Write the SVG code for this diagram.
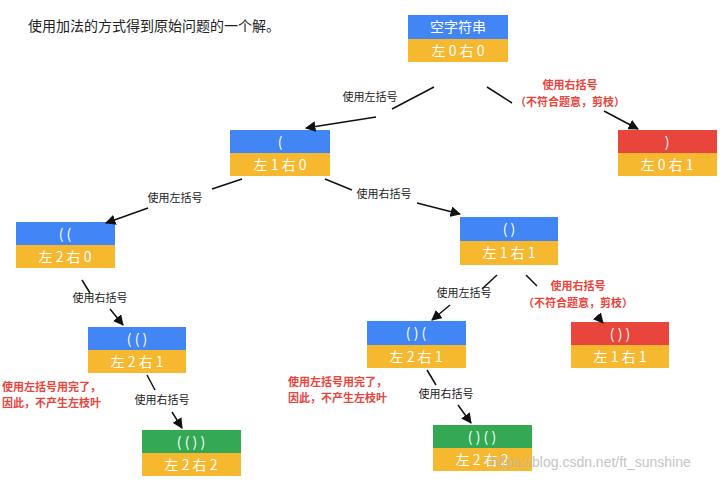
<svg xmlns="http://www.w3.org/2000/svg" width="722" height="481" viewBox="0 0 722 481">
<defs><marker id="ah" viewBox="0 0 10 10" refX="9" refY="5" markerWidth="7" markerHeight="7" orient="auto"><path d="M0,0L10,5L0,10z" fill="#111"/></marker></defs>
<style>
text{font-family:"Noto Sans CJK SC","Liberation Sans",sans-serif}
.b{fill:#4285F4}.y{fill:#F5B82E}.r{fill:#E8453C}.g{fill:#34A853}
.t{fill:#fff;font-size:14px;text-anchor:middle}
.l{fill:#222;font-size:11px;text-anchor:middle}
.rl{fill:#E8453C;font-size:11px;font-weight:bold;text-anchor:middle}
.ra{fill:#E8453C;font-size:11px;font-weight:bold}
line{stroke:#111;stroke-width:1.5}
</style>
<rect width="722" height="481" fill="#fff"/>
<text x="28" y="31" font-size="14" fill="#222">使用加法的方式得到原始问题的一个解。</text>
<g id="n0"><rect class="b" x="408" y="15" width="100" height="24"/><rect class="y" x="408" y="39" width="100" height="23"/><text class="t" x="458" y="32">空字符串</text><text class="t" x="458" y="56">左 0 右 0</text></g>
<g id="n1"><rect class="b" x="230" y="130" width="100" height="23"/><rect class="y" x="230" y="153" width="100" height="23"/><text class="t" x="280" y="147">(</text><text class="t" x="280" y="170">左 1 右 0</text></g>
<g id="n2"><rect class="r" x="618" y="130" width="99" height="23"/><rect class="y" x="618" y="153" width="99" height="23"/><text class="t" x="667" y="147">)</text><text class="t" x="667" y="170">左 0 右 1</text></g>
<g id="n3"><rect class="b" x="16" y="222" width="99" height="23"/><rect class="y" x="16" y="245" width="99" height="23"/><text class="t" x="65" y="239">( (</text><text class="t" x="65" y="262">左 2 右 0</text></g>
<g id="n4"><rect class="b" x="460" y="217" width="98" height="24"/><rect class="y" x="460" y="241" width="98" height="24"/><text class="t" x="509" y="234">( )</text><text class="t" x="509" y="258">左 1 右 1</text></g>
<g id="n5"><rect class="b" x="88" y="327" width="98" height="23"/><rect class="y" x="88" y="350" width="98" height="23"/><text class="t" x="137" y="344">( ( )</text><text class="t" x="137" y="367">左 2 右 1</text></g>
<g id="n6"><rect class="b" x="367" y="321" width="99" height="24"/><rect class="y" x="367" y="345" width="99" height="23"/><text class="t" x="416" y="338">( ) (</text><text class="t" x="416" y="362">左 2 右 1</text></g>
<g id="n7"><rect class="r" x="571" y="322" width="98" height="23"/><rect class="y" x="571" y="345" width="98" height="23"/><text class="t" x="620" y="339">( ) )</text><text class="t" x="620" y="362">左 1 右 1</text></g>
<g id="n8"><rect class="g" x="142" y="430" width="99" height="23"/><rect class="y" x="142" y="453" width="99" height="23"/><text class="t" x="191" y="447">( ( ) )</text><text class="t" x="191" y="470">左 2 右 2</text></g>
<g id="n9"><rect class="g" x="433" y="425" width="99" height="23"/><rect class="y" x="433" y="448" width="99" height="23"/><text class="t" x="482" y="442">( ) ( )</text><text class="t" x="482" y="465">左 2 右 2</text></g>
<g id="edges">
<line x1="434" y1="87" x2="392" y2="109"/><line x1="376" y1="117" x2="306" y2="128" marker-end="url(#ah)"/>
<text class="l" x="370" y="101">使用左括号</text>
<line x1="487" y1="87" x2="512" y2="103"/><line x1="604" y1="111" x2="638" y2="129" marker-end="url(#ah)"/>
<text class="rl" x="570" y="89">使用右括号</text><text class="rl" x="570" y="106">（不符合题意，剪枝）</text>
<line x1="242" y1="179" x2="212" y2="189"/><line x1="148" y1="208" x2="106" y2="223" marker-end="url(#ah)"/>
<text class="l" x="175" y="202">使用左括号</text>
<line x1="325" y1="179" x2="352" y2="190"/><line x1="417" y1="203" x2="460" y2="214" marker-end="url(#ah)"/>
<text class="l" x="384" y="198">使用右括号</text>
<line x1="82" y1="280" x2="90" y2="293"/><line x1="110" y1="309" x2="123" y2="325" marker-end="url(#ah)"/>
<text class="l" x="100" y="302">使用右括号</text>
<line x1="147" y1="375" x2="155" y2="390"/><line x1="172" y1="412" x2="182" y2="428" marker-end="url(#ah)"/>
<text class="l" x="162" y="404">使用右括号</text>
<line x1="497" y1="275" x2="482" y2="289"/><line x1="450" y1="305" x2="432" y2="320" marker-end="url(#ah)"/>
<text class="l" x="464" y="297">使用左括号</text>
<line x1="526" y1="275" x2="537" y2="286"/><line x1="597" y1="316" x2="603" y2="323" marker-end="url(#ah)"/>
<text class="rl" x="578" y="290">使用右括号</text><text class="rl" x="578" y="307">（不符合题意，剪枝）</text>
<line x1="427" y1="370" x2="436" y2="385"/><line x1="458" y1="405" x2="471" y2="423" marker-end="url(#ah)"/>
<text class="l" x="446" y="398">使用右括号</text>
</g>
<text class="ra" x="2" y="391">使用左括号用完了，</text><text class="ra" x="2" y="407">因此，不产生左枝叶</text>
<text class="ra" x="288" y="386">使用左括号用完了，</text><text class="ra" x="288" y="402">因此，不产生左枝叶</text>
<text x="490" y="467" font-size="14" fill="#bbb" style="font-family:'Liberation Sans Narrow','Liberation Sans',sans-serif" opacity="0.85">https://blog.csdn.net/ft_sunshine</text>
</svg>
